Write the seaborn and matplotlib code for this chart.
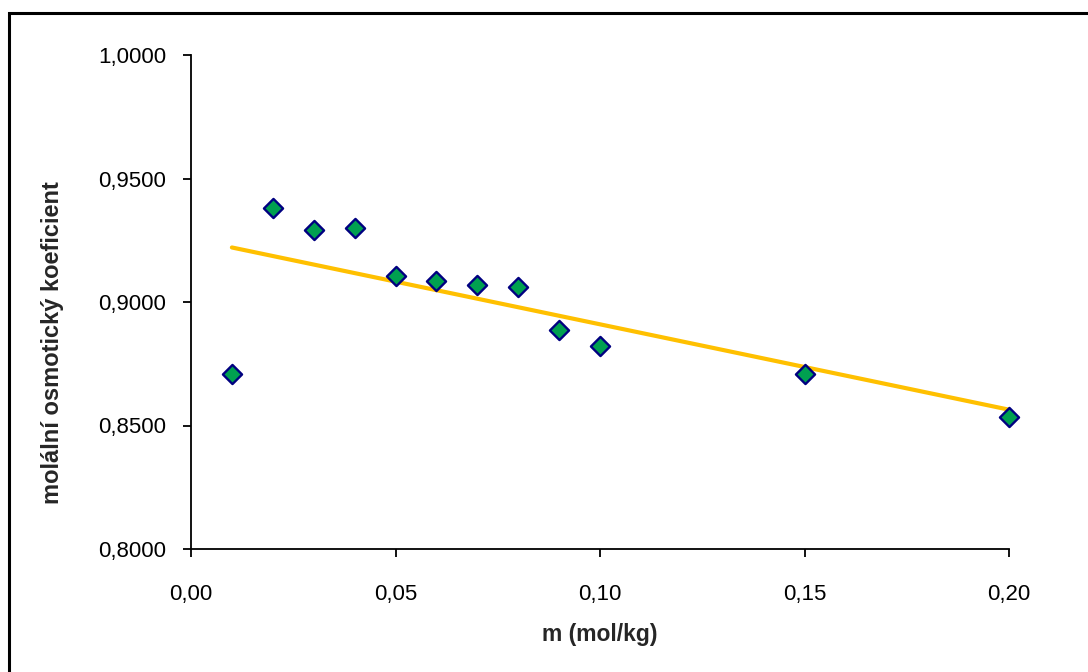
import matplotlib
matplotlib.use("Agg")
import matplotlib.pyplot as plt
import matplotlib.patches as mpatches
from matplotlib.ticker import FuncFormatter, MultipleLocator
import seaborn as sns
import pandas as pd

# molality (mol/kg) and the molal osmotic coefficient
molality = [0.01, 0.02, 0.03, 0.04, 0.05, 0.06, 0.07, 0.08, 0.09, 0.10, 0.15, 0.20]
osm_coef = [0.8709, 0.9381, 0.9291, 0.9300, 0.9105, 0.9085, 0.9069, 0.9061,
            0.8887, 0.8822, 0.8709, 0.8534]

x_label = "m (mol/kg)"
y_label = "molální osmotický koeficient"

df = pd.DataFrame({"m": molality, "phi": osm_coef})

sns.set_theme(style="white")
plt.rcParams["font.family"] = ["Liberation Sans", "DejaVu Sans"]

fig = plt.figure(figsize=(10.88, 6.72), dpi=100)
ax = fig.add_axes([191 / 1088, 1 - 549 / 672, (1009 - 191) / 1088, 494 / 672])

# outer chart frame (left and top edges visible)
frame = mpatches.Rectangle((9 / 1088, -0.1), 1.2, (672 - 13) / 672 + 0.1,
                           transform=fig.transFigure, fill=False,
                           edgecolor="black", linewidth=2.2, zorder=0)
fig.patches.append(frame)

# linear trendline
sns.regplot(data=df, x="m", y="phi", ax=ax, scatter=False, ci=None,
            line_kws={"color": "#FFC000", "linewidth": 3.0, "zorder": 2})

# data points
sns.scatterplot(data=df, x="m", y="phi", ax=ax, marker="D", s=95,
                color="#00A050", edgecolor="#000080", linewidth=1.7, zorder=3,
                clip_on=False)

ax.set_xlim(0, 0.20)
ax.set_ylim(0.80, 1.00)
ax.xaxis.set_major_locator(MultipleLocator(0.05))
ax.yaxis.set_major_locator(MultipleLocator(0.05))
ax.xaxis.set_major_formatter(FuncFormatter(lambda v, p: f"{v:.2f}".replace(".", ",")))
ax.yaxis.set_major_formatter(FuncFormatter(lambda v, p: f"{v:.4f}".replace(".", ",")))

for side in ["top", "right"]:
    ax.spines[side].set_visible(False)
for side in ["left", "bottom"]:
    ax.spines[side].set_color("black")
    ax.spines[side].set_linewidth(1.3)

ax.tick_params(axis="both", which="major", direction="out", length=6, width=1.3,
               color="black", labelsize=16, labelcolor="black", bottom=True, left=True)
ax.tick_params(axis="x", pad=19)
ax.tick_params(axis="y", pad=12)

ax.set_xlabel(x_label, fontsize=16.5, fontweight="bold", labelpad=13)
ax.set_ylabel(y_label, fontsize=17, fontweight="bold")
ax.yaxis.set_label_coords(-0.155, 0.417)
ax.grid(False)
ax.set_facecolor("white")

fig.savefig("out.png", dpi=100, facecolor="white")
